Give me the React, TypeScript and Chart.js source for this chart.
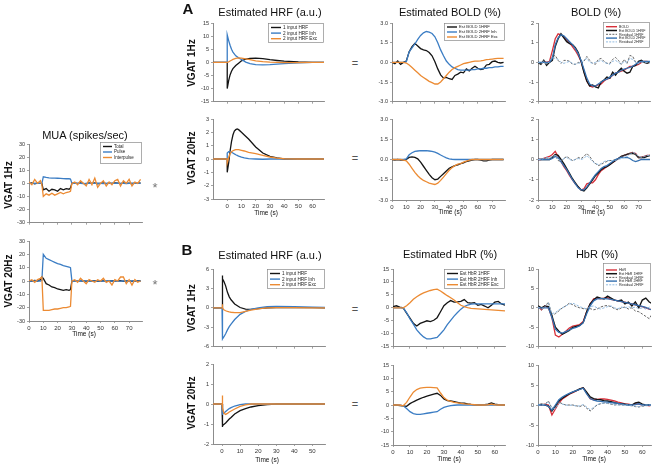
import React, { useEffect, useRef } from "react";
import { Chart, registerables } from "chart.js";
Chart.register(...registerables);

const FONT = '"Liberation Sans", Arial, Helvetica, sans-serif';
Chart.defaults.font.family = FONT;

// ---------- colours ----------
const C_BLACK = "#141414";
const C_BLUE = "#3b7dc4";
const C_ORANGE = "#ec8b33";
const C_RED = "#d7303a";
const C_GRAY = "#555555";
const C_LBLUE = "#86b3de";
const C_DBLUE = "#3470b0";

// ---------- tick arrays ----------
const muaYTicks = [-30, -20, -10, 0, 10, 20, 30];
const muaXTicks = [0, 10, 20, 30, 40, 50, 60, 70];
const hrfA1YTicks = [-15, -10, -5, 0, 5, 10, 15];
const hrfA2YTicks = [-3, -2, -1, 0, 1, 2, 3];
const hrfAXTicks = [0, 10, 20, 30, 40, 50, 60];
const boldAYTicks = [-3, -1.5, 0, 1.5, 3];
const boldXTicks = [0, 10, 20, 30, 40, 50, 60, 70];
const boldPYTicks = [-2, -1, 0, 1, 2];
const hrfB1YTicks = [-6, -3, 0, 3, 6];
const hrfB2YTicks = [-2, -1, 0, 1, 2];
const hrfBXTicks = [0, 10, 20, 30, 40, 50];
const hbrYTicks = [-15, -10, -5, 0, 5, 10, 15];
const hbrPYTicks = [-10, -5, 0, 5, 10];
const hbrXTicks = [0, 10, 20, 30, 40, 50, 60];

// ---------- MUA ----------
const muaTime = [0, 2, 4, 6, 8, 9, 10, 12, 14, 16, 18, 20, 22, 24, 26, 28, 29, 30, 32, 34, 36, 38, 40, 42, 44, 46, 48, 50, 52, 54, 56, 58, 60, 62, 64, 66, 68, 70, 72, 74, 76, 78];
const mua1Total = [0, 0.3, -0.3, 0.2, 0, 0, -5, -4, -6, -4.5, -5, -6, -4, -5, -4, -4.5, -3.5, 0, 0.3, -0.2, 0.4, 0, -0.3, 0.3, 0, 0.4, -0.3, 0, 0.3, -0.2, 0.2, 0, 0.3, 0.2, -0.2, 0.3, 0, 0.2, -0.3, 0.1, 0, 0.3];
const mua1Pulse = [0, 0, 0, 0, 0, 0, 5, 4.5, 4.2, 4, 4, 3.9, 3.8, 3.6, 3.5, 3.5, 3.3, 0, 0, 0.2, 0, -0.2, 0, 0.1, 0, 0, 0.2, 0, -0.1, 0, 0.1, 0, 0, 0.2, 0, 0, -0.1, 0, 0.1, 0, 0, 0];
const mua1Inter = [1, -1, 3, 0, 2, -1, -10, -8, -9, -7.5, -9, -8, -7, -8, -7, -6.5, -6, 0, 1, -1, 2, 0, -2, 3, -1, 4, -3, 0, 2, -2, 1, -1, 2, 3, -2, 2, 0, 3, -2, 1, 0, 3];
const mua2Total = [0, 0, 0.5, 0, 1, 3, 2, -2, -3, -4.5, -5, -6, -6.5, -7, -6.5, -7, -6.5, 0, 0.3, -0.2, 0.2, 0, -0.3, 0.2, 0, 0.3, -0.2, 0, 0.2, -0.3, 0, 0.2, 0, 0.3, 0.2, -0.2, 0, 0.2, -0.2, 0, 0.2, 0];
const mua2Pulse = [0, 0, 0, 0, 0, 0.5, 20, 17, 16, 15, 14, 13, 12.5, 11.5, 11, 10.5, 10, 0, 0, 0, 0.2, 0, 0, -0.2, 0, 0, 0.1, 0, 0, 0, 0.2, 0, 0, 0, -0.1, 0, 0, 0.1, 0, 0, 0, 0];
const mua2Inter = [0, 1, -1, 1, 2, 3, -22, -22, -22, -21.5, -21, -21, -20.5, -20, -20, -19.5, -19, 0, 1, -1, 2, 0, -2, 1, 0, -1, 1, 0, 2, -1, 0, -3, 1, 0, 3, 3, -2, 1, -3, 1, -1, 0];

// ---------- HRF A ----------
const hrfA1Time = [-10, 0, 0, 1, 2, 3, 4, 6, 8, 10, 13, 16, 20, 25, 30, 35, 40, 50, 60, 68];
const hrfA1One = [0, 0, -10, -7, -4.8, -3.4, -2.4, -1.2, -0.3, 0.6, 1.2, 1.5, 1.6, 1.4, 1.0, 0.7, 0.45, 0.15, 0, 0];
const hrfA1Inh = [0, 0, 10.5, 8.3, 6.5, 5, 3.9, 2.5, 1.7, 1.1, 0.1, -0.5, -0.9, -1, -0.9, -0.7, -0.5, -0.2, 0, 0];
const hrfA1Exc = [0, 0, 0, 0.2, 0.5, 0.8, 1.1, 1.5, 1.7, 1.6, 1.3, 1, 0.6, 0.3, 0.1, 0, -0.1, -0.1, 0, 0];
const hrfA2Time = [-10, 0, 0, 1, 2, 3, 4, 5, 6, 7, 8, 10, 12, 15, 20, 25, 30, 35, 40, 50, 60, 68];
const hrfA2One = [0, 0, -1, -0.3, 0.6, 1.3, 1.8, 2.1, 2.2, 2.25, 2.2, 2, 1.8, 1.5, 0.9, 0.45, 0.2, 0.08, 0, 0, 0, 0];
const hrfA2Inh = [0, 0, 0.45, 0.55, 0.55, 0.5, 0.45, 0.38, 0.32, 0.27, 0.22, 0.14, 0.08, 0.03, 0, -0.02, 0, 0, 0, 0, 0, 0];
const hrfA2Exc = [0, 0, -0.3, 0.1, 0.4, 0.55, 0.62, 0.67, 0.7, 0.7, 0.7, 0.65, 0.6, 0.5, 0.4, 0.27, 0.15, 0.07, 0.02, 0, 0, 0];

// ---------- BOLD ----------
const boldTime = [0, 2, 4, 6, 8, 10, 12, 14, 16, 18, 20, 22, 24, 26, 28, 30, 32, 34, 36, 38, 40, 42, 44, 46, 48, 50, 52, 54, 56, 58, 60, 62, 64, 66, 68, 70, 72, 74, 76, 78];
const boldA1One = [0, -0.1, 0.1, -0.15, 0, 0.1, 0.8, 1.2, 1.45, 1.25, 1.05, 0.95, 0.9, 0.75, 0.5, 0.05, -0.5, -0.95, -1.2, -1.15, -1.25, -1.3, -1.0, -0.9, -0.75, -0.8, -0.5, -0.65, -0.45, -0.3, -0.45, -0.55, -0.5, -0.2, -0.15, 0.05, 0.1, 0, -0.05, 0];
const boldA1Inh = [0, 0, 0, 0, 0, 0.05, 0.8, 1.1, 1.4, 1.75, 2.05, 2.25, 2.35, 2.3, 2.2, 1.95, 1.5, 0.95, 0.5, 0.1, -0.15, -0.35, -0.45, -0.55, -0.6, -0.6, -0.6, -0.6, -0.55, -0.55, -0.5, -0.5, -0.45, -0.45, -0.4, -0.4, -0.35, -0.35, -0.3, -0.3];
const boldA1Exc = [0, 0, 0, 0, 0, -0.05, -0.2, -0.4, -0.6, -0.8, -1.0, -1.15, -1.3, -1.45, -1.55, -1.65, -1.65, -1.5, -1.25, -1.0, -0.75, -0.55, -0.4, -0.3, -0.2, -0.1, -0.05, 0, 0.05, 0.1, 0.1, 0.12, 0.15, 0.2, 0.22, 0.25, 0.28, 0.3, 0.3, 0.3];
const boldA2One = [0, -0.05, 0, -0.05, -0.05, 0, 0.15, 0.2, 0.15, 0.05, -0.2, -0.5, -0.8, -1.1, -1.35, -1.5, -1.45, -1.25, -1.05, -0.85, -0.65, -0.55, -0.45, -0.4, -0.3, -0.25, -0.15, -0.1, -0.05, 0, 0, -0.05, -0.1, -0.1, -0.05, 0, 0, 0, 0, 0];
const boldA2Inh = [0, 0, 0, 0, 0, 0.05, 0.35, 0.5, 0.6, 0.63, 0.65, 0.65, 0.65, 0.63, 0.6, 0.55, 0.45, 0.33, 0.22, 0.12, 0.05, 0.02, 0, 0, 0, 0, 0, 0, 0, 0, 0, 0, 0, 0, 0, 0, 0, 0, 0, 0];
const boldA2Exc = [0, 0, 0, 0, -0.05, -0.1, -0.35, -0.65, -0.95, -1.2, -1.4, -1.55, -1.65, -1.75, -1.8, -1.85, -1.75, -1.55, -1.3, -1.05, -0.8, -0.6, -0.45, -0.35, -0.3, -0.2, -0.12, -0.05, 0, 0, 0, 0, 0, 0, 0, 0, 0, 0, 0, 0];
const boldP1Obs = [0, -0.05, 0.05, 0, 0.05, 0.6, 1.2, 1.45, 1.4, 1.3, 1.15, 1.0, 0.8, 0.6, 0.35, 0.05, -0.45, -0.95, -1.2, -1.25, -1.2, -1.15, -1.1, -0.95, -0.85, -0.8, -0.65, -0.55, -0.5, -0.45, -0.4, -0.3, -0.2, -0.2, -0.15, -0.1, 0, 0.05, 0.05, 0];
const boldP1Res1 = [0.05, -0.1, 0.1, -0.1, 0.05, 0.3, 0.35, 0.1, -0.05, 0.1, 0.1, 0.05, -0.1, -0.1, 0, -0.05, 0.05, 0.3, 0.1, -0.05, -0.1, 0.15, 0.2, 0.05, -0.05, -0.05, 0.15, 0.25, 0.1, -0.1, 0.15, -0.05, 0.35, 0.3, 0, -0.1, 0.05, 0, 0, 0.05];
const boldP1Two = [0, 0, 0, 0, 0, 0.2, 0.9, 1.25, 1.4, 1.35, 1.2, 1.05, 0.9, 0.7, 0.45, 0.1, -0.35, -0.8, -1.1, -1.2, -1.2, -1.1, -1.0, -0.9, -0.85, -0.75, -0.65, -0.55, -0.5, -0.4, -0.35, -0.3, -0.25, -0.2, -0.1, 0, 0.05, 0.05, 0.05, 0.05];
const boldP1Res2 = [0, -0.05, 0.05, -0.1, 0.05, 0.25, 0.2, 0.15, 0, -0.05, 0, 0.05, -0.05, -0.1, -0.05, 0, 0.1, 0.2, 0, -0.05, 0, 0.05, 0.1, 0, -0.05, -0.1, 0.05, 0.1, 0, -0.1, 0.05, 0, 0.2, 0.15, 0, -0.05, 0, 0, 0, 0];
const boldP2Obs = [0, 0, 0.05, 0.1, 0.15, 0.25, 0.4, 0.15, -0.1, -0.35, -0.55, -0.8, -1.0, -1.2, -1.35, -1.5, -1.45, -1.2, -1.15, -1.15, -1.0, -0.75, -0.55, -0.45, -0.35, -0.25, -0.15, -0.05, 0.05, 0.15, 0.2, 0.25, 0.3, 0.35, 0.3, 0.1, 0.1, 0.15, 0.2, 0.2];
const boldP2One = [0, 0, 0, 0, 0, 0.1, 0.25, 0.2, 0, -0.2, -0.45, -0.7, -0.95, -1.15, -1.35, -1.5, -1.55, -1.4, -1.2, -1.0, -0.8, -0.65, -0.5, -0.4, -0.35, -0.25, -0.15, -0.05, 0.05, 0.15, 0.2, 0.25, 0.3, 0.3, 0.25, 0.1, 0.1, 0.1, 0.15, 0.2];
const boldP2Res1 = [0, 0, 0.05, 0.1, 0.05, 0.1, 0.2, -0.05, -0.1, 0.05, 0.15, 0.05, -0.05, 0, 0.1, 0.05, 0.15, 0.3, 0.15, -0.05, -0.2, -0.3, -0.25, -0.15, -0.1, -0.05, -0.05, 0, 0.05, 0.15, 0.2, 0.25, 0.3, 0.35, 0.25, 0.1, 0.1, 0.15, 0.2, 0.2];
const boldP2Two = [0, 0, 0, 0, 0, 0.05, 0.15, 0.1, -0.1, -0.3, -0.5, -0.75, -1.0, -1.2, -1.4, -1.5, -1.5, -1.35, -1.15, -0.95, -0.75, -0.6, -0.45, -0.35, -0.3, -0.2, -0.1, 0, 0.05, 0.1, 0.1, 0.1, 0.05, -0.05, -0.1, -0.05, 0, 0, 0, 0];
const boldP2Res2 = [0, 0, 0.05, 0.1, 0.1, 0.15, 0.2, 0, -0.05, 0.05, 0.1, 0, -0.05, 0, 0.05, 0, 0.05, 0.2, 0.05, -0.1, -0.2, -0.25, -0.2, -0.1, -0.05, -0.05, -0.05, -0.05, 0, 0.05, 0.1, 0.15, 0.25, 0.35, 0.3, 0.15, 0.1, 0.15, 0.2, 0.2];

// ---------- HRF B ----------
const hrfBTime = [-5, 0, 0, 0.5, 1, 2, 3, 4, 5, 7, 10, 13, 16, 20, 25, 30, 40, 50, 57];
const hrfB1One = [0, 0, 5, 4.5, 4.1, 3.4, 2.4, 1.7, 1.25, 0.6, 0.05, -0.2, -0.25, -0.12, 0, 0.05, 0.05, 0.03, 0];
const hrfB1Inh = [0, 0, -5, -4.8, -4.5, -4, -3.4, -2.9, -2.5, -1.8, -1.0, -0.55, -0.25, 0, 0.18, 0.23, 0.2, 0.12, 0.08];
const hrfB1Exc = [0, 0, 0.55, 0, -0.3, -0.45, -0.55, -0.62, -0.68, -0.75, -0.75, -0.55, -0.35, -0.15, 0, 0.05, 0.05, 0, 0];
const hrfB2One = [0, 0, -1.15, -1.08, -1.02, -0.95, -0.85, -0.75, -0.67, -0.5, -0.33, -0.23, -0.15, -0.08, -0.03, 0, 0, 0, 0];
const hrfB2Inh = [0, 0, -0.55, -0.5, -0.46, -0.38, -0.3, -0.23, -0.18, -0.1, -0.03, 0, 0, 0, 0, 0, 0, 0, 0];
const hrfB2Exc = [0, 0, 0.42, -0.2, -0.45, -0.52, -0.47, -0.4, -0.35, -0.25, -0.12, -0.04, 0, 0, 0, 0, 0, 0, 0];

// ---------- HbR ----------
const hbrTime = [0, 2, 4, 6, 8, 10, 12, 14, 16, 18, 20, 22, 24, 26, 28, 30, 32, 34, 36, 38, 40, 42, 44, 46, 48, 50, 52, 54, 56, 58, 60, 62, 64, 66];
const hbr1One = [0.5, 0.8, 0.3, 0, -2, -4, -6, -7, -6, -5.5, -5, -5.3, -4.8, -3.8, -1.5, 0.8, 2, 2.8, 2.2, 2.3, 2.5, 3.2, 2, 1.8, 2, 1, 1.3, 0.7, 0, 1, 2.2, 2.5, 1.5, 1];
const hbr1Inh = [0, 0, 0, 0, -1.8, -4.3, -6.3, -8.5, -10, -11.2, -12, -12, -11.7, -11.4, -10, -8.5, -6.5, -4.8, -3.2, -1.8, -0.5, 0.5, 1.1, 1.4, 1.5, 1.5, 1.5, 1.5, 1.5, 1.5, 1.5, 1.5, 1.5, 1.5];
const hbr1Exc = [0, 0, 0, 0, 0.8, 2, 3.3, 4.3, 5.1, 5.8, 6.3, 6.7, 7, 7.2, 6.5, 5.6, 4.7, 3.9, 3, 2, 1, 0.5, 0.1, -0.2, -0.3, -0.4, -0.5, -0.6, -0.7, -0.8, -0.9, -1, -1.1, -1.2];
const hbr2One = [0, 0, -0.2, -0.3, -0.5, 0.5, 1.2, 1.8, 2.4, 2.9, 3.3, 3.7, 4.1, 4.4, 3.6, 2.3, 1.6, 1.5, 1.3, 1, 0.7, 0.7, 0.4, 0.2, 0.1, 0, 0, 0.1, 0.3, 0.8, 0.3, 0.1, 0, 0];
const hbr2Inh = [0, 0, 0, -0.3, -1.3, -2.5, -3.2, -3.5, -3.5, -3.3, -3.1, -2.9, -2.7, -2.5, -1.6, -0.9, -0.5, -0.2, -0.1, 0, 0, 0, 0, 0, 0, 0, 0, 0, 0, 0, 0, 0, 0, 0];
const hbr2Exc = [0, 0, 0, -0.3, 1, 3, 4.8, 5.8, 6.3, 6.5, 6.6, 6.6, 6.5, 6.4, 4.5, 2.8, 1.8, 1.4, 1, 0.8, 0.6, 0.4, 0.3, 0.2, 0.1, 0, 0, 0, 0.1, 0.3, 0.1, 0, 0, 0];
const hbrP1Obs = [0.3, -0.5, 0.5, 0, -2.5, -7, -7.5, -6.8, -6, -5.2, -4.7, -4.5, -4.3, -3.5, -1, 1, 2.3, 2.5, 2.3, 2.5, 2.6, 2.2, 2, 1.8, 1.6, 1.5, 1.2, 1, 0.8, 0.5, 0.3, 0, -0.3, -0.5];
const hbrP1One = [0.5, 0, 0.5, 0.3, -2, -5, -6, -6.8, -6.3, -5.8, -5, -4.8, -4.5, -3.8, -1, 1, 2, 2.8, 2.5, 2.3, 3, 2.5, 2, 1.8, 2, 1, 1.5, 0.5, 1.5, 0, 2, 2.5, 1.5, 1];
const hbrP1Res1 = [0.3, -0.5, 0.3, 1.5, -2, -1.5, -0.8, 0, 0.5, 1.2, 0.8, 0.3, 0, -0.2, -0.3, -0.2, -0.5, -0.3, 0.2, 0.5, 0.6, 0.3, -0.2, -0.5, 0, 0.2, -0.3, 0, -0.8, -1, -1.6, -2.2, -2.8, -1.3];
const hbrP1Two = [0, 0, 0, 0, -2.5, -5.5, -6.3, -6.5, -6.1, -5.7, -5.3, -5, -4.6, -3.8, -1.5, 0.5, 1.8, 2.3, 2.4, 2.4, 2.3, 2.2, 2, 1.8, 1.6, 1.4, 1.2, 1, 0.8, 0.6, 0.4, 0.1, -0.3, -0.6];
const hbrP1Res2 = [0.2, -0.3, 0.3, 1.2, -1.5, -1.2, -0.5, 0, 0.5, 1, 1.2, 0.8, 0.3, 0, -0.3, 0.3, 0.5, 0, -0.3, 0, 0.3, 0.5, 0, -0.2, 0.2, 0, 0.3, 0, 0.2, -0.2, 0, -0.3, 0.2, 0];
const hbrP2Obs = [0, 0, 0.2, 0, -2.5, -1, 0.5, 1.5, 2.1, 2.7, 3.1, 3.5, 4, 4.3, 3, 1.6, 1.3, 1.4, 1.5, 1.5, 1.4, 1.2, 1, 0.7, 0.5, 0.3, 0.2, 0, 0.3, 0.2, 0, 0, -0.2, 0];
const hbrP2One = [0, 0.2, 0, -0.3, -1.5, -0.3, 1, 1.7, 2.3, 2.8, 3.2, 3.6, 4, 4.3, 3.2, 2, 1.6, 1.4, 1.3, 1.1, 1, 0.8, 0.6, 0.4, 0.3, 0.2, 0.1, 0, 0.5, 0.7, 0.2, 0, 0, 0];
const hbrP2Res1 = [0, 0, 0.2, 1, -0.8, -0.8, 0.8, 0.3, 0, 0, 0, -0.2, -0.4, 0, -0.8, -1.5, -0.8, 0, 0.3, 0.5, 0.4, 0.2, 0, 0.1, 0, 0, -0.1, -0.2, -0.4, -0.5, -0.3, -0.2, 0, 0];
const hbrP2Two = [0, 0, 0, -0.3, -1.3, 0, 1.3, 2, 2.5, 2.9, 3.3, 3.6, 3.9, 4.2, 2.8, 1.6, 1.2, 1, 0.9, 0.8, 0.7, 0.6, 0.5, 0.4, 0.3, 0.1, 0, 0, 0.1, 0.3, 0, 0, 0, 0];
const hbrP2Res2 = [0, 0, 0.1, 0.8, -0.6, -1, 0.5, 0.2, 0, -0.1, 0, -0.3, -0.2, 0.1, -0.5, -1.2, -0.6, 0.1, 0.4, 0.5, 0.4, 0.3, 0.1, 0, 0, 0, 0, -0.1, -0.3, -0.4, -0.2, 0, 0, 0];

// ---------- types ----------
type S = { label: string; x: number[]; y: number[]; color: string; dash?: number[]; w?: number };
type Leg = { width: number; height: number; first: number; row: number; font: number; line: number; dy?: number };
type P = {
  id: string; L: number; T: number; R: number; B: number;
  xMin: number; xMax: number; xTicks: number[]; yTicks: number[];
  dec?: number; labels: boolean; series: S[]; legend?: Leg;
};

const DASH = [2.5, 1.5];

const hrfSeries = (x: number[], a: number[], b: number[], c: number[]): S[] => [
  { label: "1 input HRF", x, y: a, color: C_BLACK },
  { label: "2 input HRF Inh", x, y: b, color: C_BLUE },
  { label: "2 input HRF Exc", x, y: c, color: C_ORANGE },
];

const panels: P[] = [
  {
    id: "mua1", L: 29, T: 144, R: 142, B: 224, xMin: 0, xMax: 79, xTicks: muaXTicks, yTicks: muaYTicks, labels: false,
    series: [
      { label: "Total", x: muaTime, y: mua1Total, color: C_BLACK },
      { label: "Pulse", x: muaTime, y: mua1Pulse, color: C_BLUE },
      { label: "Interpulse", x: muaTime, y: mua1Inter, color: C_ORANGE },
    ],
    legend: { width: 42, height: 22, first: 4.5, row: 5.5, font: 4.5, line: 9, dy: -2 },
  },
  {
    id: "mua2", L: 29, T: 241, R: 142, B: 321, xMin: 0, xMax: 79, xTicks: muaXTicks, yTicks: muaYTicks, labels: true,
    series: [
      { label: "Total", x: muaTime, y: mua2Total, color: C_BLACK },
      { label: "Pulse", x: muaTime, y: mua2Pulse, color: C_BLUE },
      { label: "Interpulse", x: muaTime, y: mua2Inter, color: C_ORANGE },
    ],
  },
  {
    id: "hrfA1", L: 213, T: 23, R: 324, B: 103, xMin: -10, xMax: 68, xTicks: hrfAXTicks, yTicks: hrfA1YTicks, labels: false,
    series: hrfSeries(hrfA1Time, hrfA1One, hrfA1Inh, hrfA1Exc),
    legend: { width: 56, height: 20, first: 4.5, row: 5.6, font: 4.7, line: 10 },
  },
  {
    id: "hrfA2", L: 213, T: 119, R: 324, B: 199, xMin: -10, xMax: 68, xTicks: hrfAXTicks, yTicks: hrfA2YTicks, labels: true,
    series: hrfSeries(hrfA2Time, hrfA2One, hrfA2Inh, hrfA2Exc),
  },
  {
    id: "boldA1", L: 392, T: 23, R: 505, B: 103, xMin: 0, xMax: 79, xTicks: boldXTicks, yTicks: boldAYTicks, dec: 1, labels: false,
    series: [
      { label: "Est BOLD 1HRF", x: boldTime, y: boldA1One, color: C_BLACK },
      { label: "Est BOLD 2HRF Inh", x: boldTime, y: boldA1Inh, color: C_BLUE },
      { label: "Est BOLD 2HRF Exc", x: boldTime, y: boldA1Exc, color: C_ORANGE },
    ],
    legend: { width: 61, height: 18, first: 4, row: 5, font: 4.2, line: 10 },
  },
  {
    id: "boldA2", L: 392, T: 119, R: 505, B: 200, xMin: 0, xMax: 79, xTicks: boldXTicks, yTicks: boldAYTicks, dec: 1, labels: true,
    series: [
      { label: "Est BOLD 1HRF", x: boldTime, y: boldA2One, color: C_BLACK },
      { label: "Est BOLD 2HRF Inh", x: boldTime, y: boldA2Inh, color: C_BLUE },
      { label: "Est BOLD 2HRF Exc", x: boldTime, y: boldA2Exc, color: C_ORANGE },
    ],
  },
  {
    id: "boldP1", L: 538, T: 23, R: 650, B: 103, xMin: 0, xMax: 78, xTicks: boldXTicks, yTicks: boldPYTicks, labels: false,
    series: [
      { label: "BOLD", x: boldTime, y: boldP1Obs, color: C_RED },
      { label: "Est BOLD 1HRF", x: boldTime, y: boldA1One, color: C_BLACK, w: 1.4 },
      { label: "Residual 1HRF", x: boldTime, y: boldP1Res1, color: C_GRAY, dash: DASH, w: 0.9 },
      { label: "Est BOLD 2HRF", x: boldTime, y: boldP1Two, color: C_DBLUE },
      { label: "Residual 2HRF", x: boldTime, y: boldP1Res2, color: C_LBLUE, dash: DASH, w: 0.9 },
    ],
    legend: { width: 47, height: 26, first: 4.7, row: 3.8, font: 3.6, line: 11, dy: -1 },
  },
  {
    id: "boldP2", L: 538, T: 119, R: 650, B: 200, xMin: 0, xMax: 78, xTicks: boldXTicks, yTicks: boldPYTicks, labels: true,
    series: [
      { label: "BOLD", x: boldTime, y: boldP2Obs, color: C_RED },
      { label: "Est BOLD 1HRF", x: boldTime, y: boldP2One, color: C_BLACK, w: 1.4 },
      { label: "Residual 1HRF", x: boldTime, y: boldP2Res1, color: C_GRAY, dash: DASH, w: 0.9 },
      { label: "Est BOLD 2HRF", x: boldTime, y: boldP2Two, color: C_DBLUE },
      { label: "Residual 2HRF", x: boldTime, y: boldP2Res2, color: C_LBLUE, dash: DASH, w: 0.9 },
    ],
  },
  {
    id: "hrfB1", L: 213, T: 269, R: 325, B: 348, xMin: -5, xMax: 57, xTicks: hrfBXTicks, yTicks: hrfB1YTicks, labels: false,
    series: hrfSeries(hrfBTime, hrfB1One, hrfB1Inh, hrfB1Exc),
    legend: { width: 58, height: 20, first: 4.5, row: 5.6, font: 4.7, line: 10 },
  },
  {
    id: "hrfB2", L: 213, T: 364, R: 325, B: 444, xMin: -5, xMax: 57, xTicks: hrfBXTicks, yTicks: hrfB2YTicks, labels: true,
    series: hrfSeries(hrfBTime, hrfB2One, hrfB2Inh, hrfB2Exc),
  },
  {
    id: "hbr1", L: 393, T: 269, R: 505, B: 348, xMin: 0, xMax: 66, xTicks: hbrXTicks, yTicks: hbrYTicks, labels: false,
    series: [
      { label: "Est HbR 1HRF", x: hbrTime, y: hbr1One, color: C_BLACK },
      { label: "Est HbR 2HRF Inh", x: hbrTime, y: hbr1Inh, color: C_BLUE },
      { label: "Est HbR 2HRF Exc", x: hbrTime, y: hbr1Exc, color: C_ORANGE },
    ],
    legend: { width: 61, height: 20, first: 4.5, row: 5.6, font: 4.5, line: 11 },
  },
  {
    id: "hbr2", L: 393, T: 365, R: 505, B: 445, xMin: 0, xMax: 66, xTicks: hbrXTicks, yTicks: hbrYTicks, labels: true,
    series: [
      { label: "Est HbR 1HRF", x: hbrTime, y: hbr2One, color: C_BLACK },
      { label: "Est HbR 2HRF Inh", x: hbrTime, y: hbr2Inh, color: C_BLUE },
      { label: "Est HbR 2HRF Exc", x: hbrTime, y: hbr2Exc, color: C_ORANGE },
    ],
  },
  {
    id: "hbrP1", L: 538, T: 269, R: 651, B: 348, xMin: 0, xMax: 65, xTicks: hbrXTicks, yTicks: hbrPYTicks, labels: false,
    series: [
      { label: "HbR", x: hbrTime, y: hbrP1Obs, color: C_RED },
      { label: "Est HbR 1HRF", x: hbrTime, y: hbrP1One, color: C_BLACK, w: 1.4 },
      { label: "Residual 1HRF", x: hbrTime, y: hbrP1Res1, color: C_GRAY, dash: DASH, w: 0.9 },
      { label: "Est HbR 2HRF", x: hbrTime, y: hbrP1Two, color: C_DBLUE },
      { label: "Residual 2HRF", x: hbrTime, y: hbrP1Res2, color: C_LBLUE, dash: DASH, w: 0.9 },
    ],
    legend: { width: 48, height: 29, first: 7, row: 3.7, font: 3.6, line: 11, dy: -6 },
  },
  {
    id: "hbrP2", L: 538, T: 365, R: 651, B: 445, xMin: 0, xMax: 65, xTicks: hbrXTicks, yTicks: hbrPYTicks, labels: true,
    series: [
      { label: "HbR", x: hbrTime, y: hbrP2Obs, color: C_RED },
      { label: "Est HbR 1HRF", x: hbrTime, y: hbrP2One, color: C_BLACK, w: 1.4 },
      { label: "Residual 1HRF", x: hbrTime, y: hbrP2Res1, color: C_GRAY, dash: DASH, w: 0.9 },
      { label: "Est HbR 2HRF", x: hbrTime, y: hbrP2Two, color: C_DBLUE },
      { label: "Residual 2HRF", x: hbrTime, y: hbrP2Res2, color: C_LBLUE, dash: DASH, w: 0.9 },
    ],
  },
];

const PAD_L = 30;
const PAD_T = 9;
const PAD_R = 6;
const AXIS_COLOR = "#8c8c8c";

function Panel({ p }: { p: P }) {
  const ref = useRef<HTMLCanvasElement>(null);
  const bottomH = p.labels ? 14 : 4;
  const w = p.R - p.L + PAD_L + PAD_R;
  const h = p.B - p.T + PAD_T + bottomH;

  useEffect(() => {
    const canvas = ref.current;
    if (!canvas) return;
    const n = p.series.length;
    const legendPlugin = {
      id: "boxLegend_" + p.id,
      afterDatasetsDraw(chart: any) {
        const lg = p.legend;
        if (!lg) return;
        const { ctx, chartArea } = chart;
        const x0 = chartArea.right - lg.width;
        const y0 = chartArea.top + (lg.dy ?? 0);
        ctx.save();
        ctx.fillStyle = "#ffffff";
        ctx.fillRect(x0, y0, lg.width, lg.height);
        ctx.strokeStyle = "#8a8a8a";
        ctx.lineWidth = 0.7;
        ctx.strokeRect(x0 + 0.5, y0 + 0.5, lg.width - 1, lg.height - 1);
        ctx.font = `${lg.font}px ${FONT}`;
        ctx.textBaseline = "middle";
        ctx.textAlign = "left";
        p.series.forEach((s, i) => {
          const y = y0 + lg.first + lg.row * i;
          ctx.strokeStyle = s.color;
          ctx.lineWidth = s.dash ? 0.9 : (s.w ?? 1.3) + 0.1;
          ctx.setLineDash(s.dash ? [2, 1.2] : []);
          ctx.beginPath();
          ctx.moveTo(x0 + 3, y);
          ctx.lineTo(x0 + 3 + lg.line, y);
          ctx.stroke();
          ctx.setLineDash([]);
          ctx.fillStyle = "#222";
          ctx.fillText(s.label, x0 + 5 + lg.line, y + 0.2);
        });
        ctx.restore();
      },
    };
    const chart = new Chart(canvas, {
      type: "line",
      data: {
        datasets: p.series.map((s, i) => ({
          label: s.label,
          data: s.x.map((x, j) => ({ x, y: s.y[j] })),
          borderColor: s.color,
          backgroundColor: s.color,
          borderWidth: s.w ?? 1.3,
          borderDash: s.dash ?? [],
          pointRadius: 0,
          tension: 0,
          fill: false,
          order: n - i,
        })),
      },
      options: {
        animation: false,
        responsive: false,
        maintainAspectRatio: false,
        events: [],
        layout: { padding: { top: PAD_T, right: PAD_R, left: 0, bottom: 0 }, autoPadding: false },
        plugins: { legend: { display: false }, tooltip: { enabled: false }, title: { display: false } },
        scales: {
          x: {
            type: "linear",
            min: p.xMin,
            max: p.xMax,
            afterBuildTicks: (s: any) => {
              s.ticks = p.xTicks.map((v) => ({ value: v }));
            },
            afterFit: (s: any) => {
              s.height = bottomH;
            },
            ticks: { display: p.labels, autoSkip: false, maxRotation: 0, padding: 2, color: "#333", font: { size: 6 } },
            grid: { display: true, drawOnChartArea: false, drawTicks: true, tickLength: 2, color: AXIS_COLOR, lineWidth: 0.8 },
            border: { display: true, color: AXIS_COLOR, width: 1 },
          },
          y: {
            type: "linear",
            min: p.yTicks[0],
            max: p.yTicks[p.yTicks.length - 1],
            afterBuildTicks: (s: any) => {
              s.ticks = p.yTicks.map((v) => ({ value: v }));
            },
            afterFit: (s: any) => {
              s.width = PAD_L;
            },
            ticks: {
              autoSkip: false,
              padding: 2,
              color: "#333",
              font: { size: 5.5 },
              callback: (v: any) => Number(v).toFixed(p.dec ?? 0),
            },
            grid: { display: true, drawOnChartArea: false, drawTicks: true, tickLength: 2, color: AXIS_COLOR, lineWidth: 0.8 },
            border: { display: true, color: AXIS_COLOR, width: 1 },
          },
        },
      } as any,
      plugins: [legendPlugin],
    });
    return () => chart.destroy();
  }, []);

  return (
    <canvas
      ref={ref}
      width={w}
      height={h}
      style={{ position: "absolute", left: p.L - PAD_L, top: p.T - PAD_T, width: w, height: h }}
    />
  );
}

type Txt = { t: string; x: number; y: number; size: number; bold?: boolean; rot?: boolean; color?: string };

const texts: Txt[] = [
  { t: "MUA (spikes/sec)", x: 85, y: 135, size: 11 },
  { t: "A", x: 188, y: 8, size: 15, bold: true },
  { t: "B", x: 187, y: 249, size: 15, bold: true },
  { t: "Estimated HRF (a.u.)", x: 270, y: 12, size: 11 },
  { t: "Estimated BOLD (%)", x: 450, y: 12, size: 11 },
  { t: "BOLD (%)", x: 596, y: 12, size: 11 },
  { t: "Estimated HRF (a.u.)", x: 270, y: 255, size: 11 },
  { t: "Estimated HbR (%)", x: 450, y: 254, size: 11 },
  { t: "HbR (%)", x: 597, y: 254, size: 11 },
  { t: "VGAT 1Hz", x: 9, y: 185, size: 10, bold: true, rot: true },
  { t: "VGAT 20Hz", x: 9, y: 281, size: 10, bold: true, rot: true },
  { t: "VGAT 1Hz", x: 192, y: 63, size: 10, bold: true, rot: true },
  { t: "VGAT 20Hz", x: 192, y: 158, size: 10, bold: true, rot: true },
  { t: "VGAT 1Hz", x: 192, y: 308, size: 10, bold: true, rot: true },
  { t: "VGAT 20Hz", x: 192, y: 403, size: 10, bold: true, rot: true },
  { t: "=", x: 355, y: 63, size: 11, color: "#555" },
  { t: "=", x: 355, y: 158, size: 11, color: "#555" },
  { t: "=", x: 355, y: 309, size: 11, color: "#555" },
  { t: "=", x: 355, y: 404, size: 11, color: "#555" },
  { t: "*", x: 155, y: 187, size: 13, color: "#777" },
  { t: "*", x: 155, y: 284, size: 13, color: "#777" },
  { t: "Time (s)", x: 84, y: 334, size: 6.5 },
  { t: "Time (s)", x: 266, y: 213, size: 6.5 },
  { t: "Time (s)", x: 450, y: 212, size: 6.5 },
  { t: "Time (s)", x: 593, y: 212, size: 6.5 },
  { t: "Time (s)", x: 267, y: 460, size: 6.5 },
  { t: "Time (s)", x: 449, y: 459, size: 6.5 },
  { t: "Time (s)", x: 594, y: 459, size: 6.5 },
];

export default function App() {
  return (
    <div
      style={{
        position: "absolute",
        left: 0,
        top: 0,
        width: 665,
        height: 464,
        overflow: "hidden",
        background: "#fff",
        fontFamily: FONT,
      }}
    >
      {panels.map((p) => (
        <Panel key={p.id} p={p} />
      ))}
      {texts.map((t, i) => (
        <div
          key={i}
          style={{
            position: "absolute",
            left: t.x,
            top: t.y,
            transform: `translate(-50%, -50%)${t.rot ? " rotate(-90deg)" : ""}`,
            fontSize: t.size,
            fontWeight: t.bold ? 700 : 400,
            color: t.color ?? "#111",
            whiteSpace: "nowrap",
            lineHeight: 1,
          }}
        >
          {t.t}
        </div>
      ))}
    </div>
  );
}
